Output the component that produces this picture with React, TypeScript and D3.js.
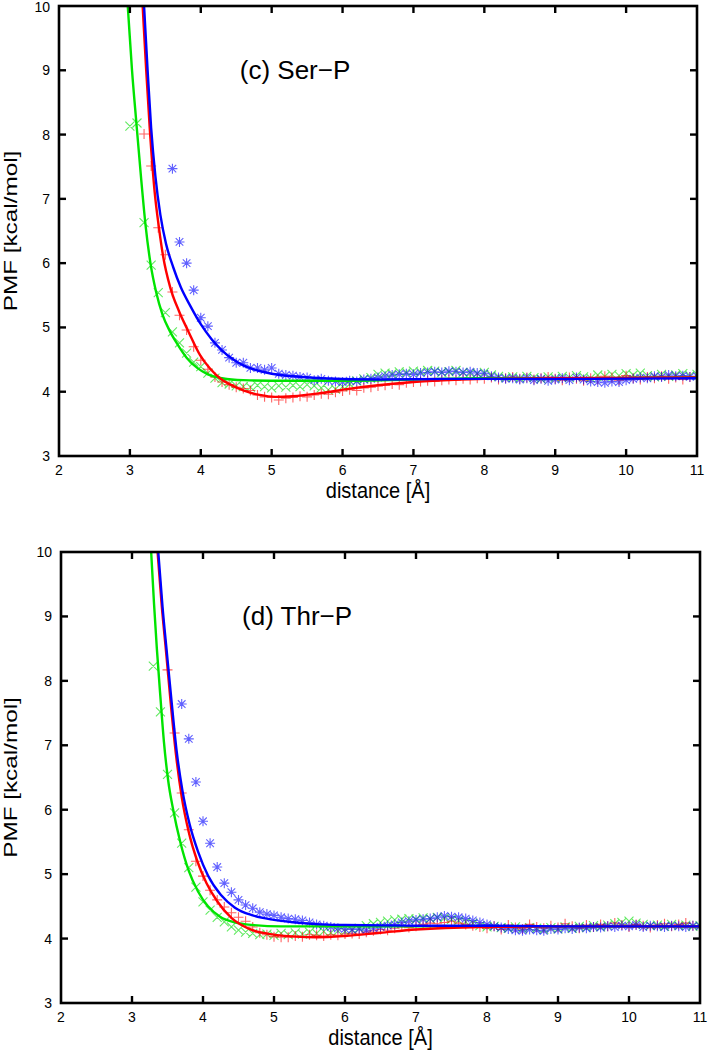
import React from 'react';
import * as d3 from 'd3';

// distance grid (Å) of the sampled PMF points
const DIST = [
  3.0, 3.1, 3.2, 3.3, 3.4, 3.5, 3.6, 3.7, 3.8, 3.9,
  4.0, 4.1, 4.2, 4.3, 4.4, 4.5, 4.6, 4.7, 4.8, 4.9,
  5.0, 5.1, 5.2, 5.3, 5.4, 5.5, 5.6, 5.7, 5.8, 5.9,
  6.0, 6.1, 6.2, 6.3, 6.4, 6.5, 6.6, 6.7, 6.8, 6.9,
  7.0, 7.1, 7.2, 7.3, 7.4, 7.5, 7.6, 7.7, 7.8, 7.9,
  8.0, 8.1, 8.2, 8.3, 8.4, 8.5, 8.6, 8.7, 8.8, 8.9,
  9.0, 9.1, 9.2, 9.3, 9.4, 9.5, 9.6, 9.7, 9.8, 9.9,
  10.0, 10.1, 10.2, 10.3, 10.4, 10.5, 10.6, 10.7, 10.8, 10.9,
  11.0,
];

const X_TICKS = [2, 3, 4, 5, 6, 7, 8, 9, 10, 11];
const Y_TICKS = [3, 4, 5, 6, 7, 8, 9, 10];

// ---- (c) Ser-P : sampled points ----
const SER_GREEN_START = 3.0;
const SER_GREEN = [
  8.13, 8.18, 6.63, 5.97, 5.54, 5.23, 4.93, 4.76, 4.60, 4.46,
  4.39, 4.29, 4.21, 4.14, 4.12, 4.09, 4.08, 4.07, 4.10, 4.08,
  4.06, 4.09, 4.07, 4.10, 4.08, 4.11, 4.09, 4.06, 4.03, 4.04,
  4.08, 4.12, 4.17, 4.20, 4.22, 4.27, 4.29, 4.28, 4.31, 4.30,
  4.32, 4.31, 4.33, 4.32, 4.30, 4.31, 4.33, 4.30, 4.29, 4.28,
  4.30, 4.26, 4.24, 4.22, 4.23, 4.21, 4.24, 4.22, 4.20, 4.23,
  4.21, 4.24, 4.22, 4.25, 4.23, 4.21, 4.26, 4.24, 4.27, 4.25,
  4.28, 4.26, 4.29, 4.25, 4.23, 4.27, 4.24, 4.26, 4.28, 4.25,
  4.27,
];
const SER_RED_START = 3.2;
const SER_RED = [
  8.01, 7.51, 6.55, 6.13, 5.55, 5.19, 4.96, 4.70,
  4.49, 4.35, 4.23, 4.15, 4.11, 4.07, 4.05, 4.02, 3.95, 3.92,
  3.91, 3.87, 3.90, 3.91, 3.93, 3.92, 3.95, 3.97, 3.96, 3.99,
  4.01, 4.03, 4.02, 4.06, 4.07, 4.09, 4.10, 4.12, 4.11, 4.14,
  4.15, 4.16, 4.17, 4.16, 4.18, 4.19, 4.18, 4.20, 4.19, 4.21,
  4.20, 4.22, 4.19, 4.21, 4.23, 4.20, 4.22, 4.19, 4.21, 4.23,
  4.20, 4.18, 4.22, 4.20, 4.17, 4.21, 4.19, 4.24, 4.22, 4.18,
  4.25, 4.21, 4.19, 4.23, 4.21, 4.24, 4.20, 4.22, 4.19, 4.23,
  4.21,
];
const SER_BLUE_START = 3.6;
const SER_BLUE = [
  7.47, 6.33, 6.00, 5.58,
  5.15, 5.02, 4.76, 4.65, 4.53, 4.45, 4.45, 4.37, 4.37, 4.34,
  4.37, 4.28, 4.26, 4.25, 4.23, 4.22, 4.18, 4.20, 4.17, 4.16,
  4.15, 4.17, 4.16, 4.19, 4.20, 4.22, 4.24, 4.26, 4.27, 4.28,
  4.27, 4.29, 4.30, 4.31, 4.30, 4.32, 4.31, 4.30, 4.31, 4.29,
  4.28, 4.24, 4.22, 4.20, 4.21, 4.19, 4.21, 4.18, 4.20, 4.17,
  4.19, 4.21, 4.18, 4.22, 4.19, 4.16, 4.15, 4.14, 4.16, 4.15,
  4.18, 4.20, 4.22, 4.21, 4.24, 4.23, 4.26, 4.24, 4.25, 4.23,
  4.24,
];

// ---- (c) Ser-P : fitted curves [distance, PMF] ----
const SER_GREEN_FIT: [number, number][] = [
  [2.93, 10.6], [2.97, 10.0], [3.03, 9.0], [3.09, 8.2], [3.16, 7.3], [3.22, 6.6],
  [3.29, 6.0], [3.37, 5.55], [3.46, 5.2], [3.56, 4.95], [3.67, 4.74], [3.8, 4.53],
  [3.95, 4.37], [4.1, 4.27], [4.3, 4.21], [4.6, 4.18], [5.2, 4.17], [6.0, 4.17],
  [7.0, 4.19], [8.0, 4.21], [9.5, 4.21], [11.0, 4.22],
];
const SER_RED_FIT: [number, number][] = [
  [3.14, 10.8], [3.18, 10.0], [3.23, 9.0], [3.28, 8.1], [3.35, 7.1], [3.41, 6.55],
  [3.47, 6.1], [3.57, 5.62], [3.69, 5.26], [3.82, 4.95], [3.99, 4.57], [4.13, 4.36],
  [4.27, 4.21], [4.42, 4.11], [4.6, 4.02], [4.83, 3.95], [5.05, 3.92], [5.3, 3.93],
  [5.7, 3.98], [6.06, 4.04], [6.5, 4.1], [7.0, 4.15], [7.5, 4.18], [8.0, 4.2],
  [9.0, 4.21], [11.0, 4.22],
];
const SER_BLUE_FIT: [number, number][] = [
  [3.16, 10.8], [3.20, 10.0], [3.25, 9.0], [3.30, 8.1], [3.36, 7.35], [3.43, 6.75],
  [3.51, 6.3], [3.61, 5.94], [3.72, 5.62], [3.85, 5.34], [4.0, 5.05], [4.15, 4.82],
  [4.3, 4.64], [4.45, 4.51], [4.6, 4.41], [4.8, 4.33], [5.0, 4.28], [5.3, 4.24],
  [5.7, 4.21], [6.5, 4.19], [7.5, 4.2], [8.5, 4.2], [9.5, 4.2], [11.0, 4.21],
];

// ---- (d) Thr-P : sampled points ----
const THR_GREEN_START = 3.3;
const THR_GREEN = [
  8.23, 7.52, 6.55, 5.95, 5.48, 5.10, 4.80,
  4.57, 4.44, 4.33, 4.26, 4.18, 4.13, 4.10, 4.08, 4.06, 4.07,
  4.05, 4.08, 4.06, 4.09, 4.07, 4.10, 4.08, 4.11, 4.09, 4.12,
  4.11, 4.13, 4.16, 4.20, 4.23, 4.25, 4.27, 4.29, 4.30, 4.31,
  4.30, 4.32, 4.31, 4.33, 4.32, 4.30, 4.28, 4.26, 4.24, 4.20,
  4.18, 4.19, 4.17, 4.16, 4.18, 4.15, 4.17, 4.16, 4.14, 4.17,
  4.15, 4.18, 4.16, 4.19, 4.17, 4.20, 4.18, 4.21, 4.23, 4.25,
  4.27, 4.24, 4.22, 4.20, 4.21, 4.19, 4.22, 4.20, 4.21, 4.19,
  4.20,
];
const THR_RED_START = 3.5;
const THR_RED = [
  8.17, 7.19, 6.26, 5.69, 5.20,
  4.97, 4.75, 4.60, 4.49, 4.40, 4.33, 4.27, 4.18, 4.09, 4.06,
  4.03, 4.02, 4.02, 4.04, 4.03, 4.06, 4.05, 4.04, 4.06, 4.05,
  4.07, 4.08, 4.07, 4.10, 4.12, 4.14, 4.13, 4.16, 4.18, 4.17,
  4.19, 4.22, 4.24, 4.23, 4.25, 4.27, 4.24, 4.22, 4.20, 4.18,
  4.16, 4.19, 4.14, 4.21, 4.17, 4.15, 4.22, 4.18, 4.16, 4.20,
  4.17, 4.23, 4.19, 4.16, 4.21, 4.18, 4.22, 4.19, 4.24, 4.21,
  4.18, 4.22, 4.20, 4.17, 4.21, 4.23, 4.19, 4.22, 4.24, 4.20,
  4.18,
];
const THR_BLUE_START = 3.7;
const THR_BLUE = [
  7.64, 7.10, 6.43,
  5.82, 5.48, 5.11, 4.86, 4.72, 4.60, 4.52, 4.47, 4.41, 4.38,
  4.36, 4.33, 4.31, 4.30, 4.28, 4.25, 4.22, 4.20, 4.18, 4.16,
  4.15, 4.14, 4.15, 4.13, 4.16, 4.18, 4.20, 4.22, 4.25, 4.27,
  4.29, 4.30, 4.31, 4.33, 4.35, 4.34, 4.33, 4.31, 4.28, 4.25,
  4.22, 4.19, 4.17, 4.15, 4.13, 4.12, 4.14, 4.13, 4.12, 4.15,
  4.14, 4.16, 4.15, 4.17, 4.16, 4.18, 4.17, 4.19, 4.18, 4.20,
  4.19, 4.21, 4.18, 4.20, 4.19, 4.18, 4.20, 4.19, 4.18, 4.20,
  4.19,
];

// ---- (d) Thr-P : fitted curves ----
const THR_GREEN_FIT: [number, number][] = [
  [3.23, 10.8], [3.27, 10.0], [3.31, 9.2], [3.35, 8.5], [3.40, 7.75], [3.45, 7.05],
  [3.51, 6.45], [3.58, 6.0], [3.68, 5.5], [3.8, 5.05], [3.93, 4.73], [4.07, 4.5],
  [4.24, 4.34], [4.45, 4.25], [4.7, 4.21], [5.1, 4.19], [6.0, 4.19], [8.0, 4.19],
  [11.0, 4.19],
];
const THR_RED_FIT: [number, number][] = [
  [3.31, 10.8], [3.36, 10.0], [3.42, 9.15], [3.48, 8.45], [3.55, 7.6], [3.62, 6.85],
  [3.70, 6.2], [3.80, 5.65], [3.92, 5.2], [4.05, 4.86], [4.2, 4.58], [4.4, 4.32],
  [4.65, 4.15], [4.95, 4.07], [5.3, 4.03], [5.6, 4.02], [6.0, 4.04], [6.5, 4.09],
  [7.0, 4.14], [7.9, 4.18], [9.0, 4.19], [11.0, 4.19],
];
const THR_BLUE_FIT: [number, number][] = [
  [3.32, 10.8], [3.37, 10.0], [3.43, 9.15], [3.49, 8.45], [3.56, 7.65], [3.63, 6.9],
  [3.71, 6.3], [3.81, 5.78], [3.93, 5.35], [4.07, 4.98], [4.25, 4.68], [4.45, 4.48],
  [4.7, 4.36], [5.0, 4.29], [5.4, 4.24], [6.0, 4.21], [7.0, 4.2], [8.0, 4.2],
  [9.0, 4.19], [11.0, 4.19],
];

const GREEN_LINE = '#00e400';
const RED_LINE = '#ff0000';
const BLUE_LINE = '#0000ff';
const FONT = '"Liberation Sans", Arial, sans-serif';

type Marker = 'cross' | 'plus' | 'star';
interface Series { start: number; values: number[]; color: string; marker: Marker }
interface Fit { pts: [number, number][]; color: string }

function markerPath(kind: Marker, x: number, y: number): string {
  const p = 5;
  const c = 4.5;
  const plus = `M${x - p},${y}H${x + p}M${x},${y - p}V${y + p}`;
  const cross = `M${x - c},${y - c}L${x + c},${y + c}M${x - c},${y + c}L${x + c},${y - c}`;
  if (kind === 'plus') return plus;
  if (kind === 'cross') return cross;
  const s = 3.8;
  return plus + `M${x - s},${y - s}L${x + s},${y + s}M${x - s},${y + s}L${x + s},${y - s}`;
}

interface PanelProps {
  id: string; left: number; right: number; top: number; bottom: number;
  title: string; series: Series[]; fits: Fit[];
}

function Panel({ id, left, right, top, bottom, title, series, fits }: PanelProps) {
  const x = d3.scaleLinear().domain([2, 11]).range([left, right]);
  const y = d3.scaleLinear().domain([3, 10]).range([bottom, top]);
  const line = d3.line<[number, number]>().x(d => x(d[0])).y(d => y(d[1])).curve(d3.curveMonotoneX);
  const tick = 7;
  return (
    <g>
      <defs>
        <clipPath id={`clip-${id}`}>
          <rect x={left} y={top} width={right - left} height={bottom - top} />
        </clipPath>
      </defs>
      <g clipPath={`url(#clip-${id})`}>
        {series.map((s, si) => {
          const i0 = DIST.indexOf(s.start);
          const d = s.values.map((v, i) => markerPath(s.marker, x(DIST[i0 + i]), y(v))).join('');
          return <path key={si} d={d} stroke={s.color} strokeWidth={1.1} fill="none" opacity={0.62} />;
        })}
        {fits.map((f, fi) => (
          <path key={fi} d={line(f.pts) || ''} stroke={f.color} strokeWidth={2.4} fill="none" />
        ))}
      </g>
      {X_TICKS.slice(1, -1).map(t => (
        <g key={`xt${t}`}>
          <line x1={x(t)} x2={x(t)} y1={bottom} y2={bottom - tick} stroke="#000" strokeWidth={2.4} />
          <line x1={x(t)} x2={x(t)} y1={top} y2={top + tick} stroke="#000" strokeWidth={2.4} />
        </g>
      ))}
      {Y_TICKS.slice(1, -1).map(t => (
        <g key={`yt${t}`}>
          <line x1={left} x2={left + tick} y1={y(t)} y2={y(t)} stroke="#000" strokeWidth={2.4} />
          <line x1={right} x2={right - tick} y1={y(t)} y2={y(t)} stroke="#000" strokeWidth={2.4} />
        </g>
      ))}
      <rect x={left} y={top} width={right - left} height={bottom - top} fill="none" stroke="#000" strokeWidth={2.6} />
      {X_TICKS.map(t => (
        <text key={`xl${t}`} x={x(t)} y={bottom + 19} textAnchor="middle" fontSize={14} fontFamily={FONT} fill="#000">{t}</text>
      ))}
      {Y_TICKS.map(t => (
        <text key={`yl${t}`} x={left - 9} y={Math.max(y(t) + 5, 12)} textAnchor="end" fontSize={14} fontFamily={FONT} fill="#000">{t}</text>
      ))}
      <text transform={`translate(${(left + right) / 2},${bottom + 42}) scale(1,1.1)`} textAnchor="middle" fontSize={20} fontFamily={FONT} fill="#000">distance [Å]</text>
      <text transform={`translate(17,${(top + bottom) / 2}) rotate(-90) scale(1.35,1)`} textAnchor="middle" fontSize={18} fontFamily={FONT} fill="#000">PMF [kcal/mol]</text>
      <text x={x(4.55)} y={y(9) + 9} fontSize={26} fontFamily={FONT} fill="#000">{title}</text>
    </g>
  );
}

export default function App() {
  return (
    <svg width={708} height={1050} style={{ position: 'absolute', left: 0, top: 0, background: '#fff' }}>
      <rect x={0} y={0} width={708} height={1050} fill="#fff" />
      <Panel
        id="c" left={59} right={697} top={6} bottom={456} title="(c) Ser−P"
        series={[
          { start: SER_GREEN_START, values: SER_GREEN, color: '#00dd00', marker: 'cross' },
          { start: SER_RED_START, values: SER_RED, color: '#ff0000', marker: 'plus' },
          { start: SER_BLUE_START, values: SER_BLUE, color: '#0000ff', marker: 'star' },
        ]}
        fits={[
          { pts: SER_GREEN_FIT, color: GREEN_LINE },
          { pts: SER_RED_FIT, color: RED_LINE },
          { pts: SER_BLUE_FIT, color: BLUE_LINE },
        ]}
      />
      <Panel
        id="d" left={61} right={700} top={552} bottom={1003} title="(d) Thr−P"
        series={[
          { start: THR_GREEN_START, values: THR_GREEN, color: '#00dd00', marker: 'cross' },
          { start: THR_RED_START, values: THR_RED, color: '#ff0000', marker: 'plus' },
          { start: THR_BLUE_START, values: THR_BLUE, color: '#0000ff', marker: 'star' },
        ]}
        fits={[
          { pts: THR_GREEN_FIT, color: GREEN_LINE },
          { pts: THR_RED_FIT, color: RED_LINE },
          { pts: THR_BLUE_FIT, color: BLUE_LINE },
        ]}
      />
    </svg>
  );
}
